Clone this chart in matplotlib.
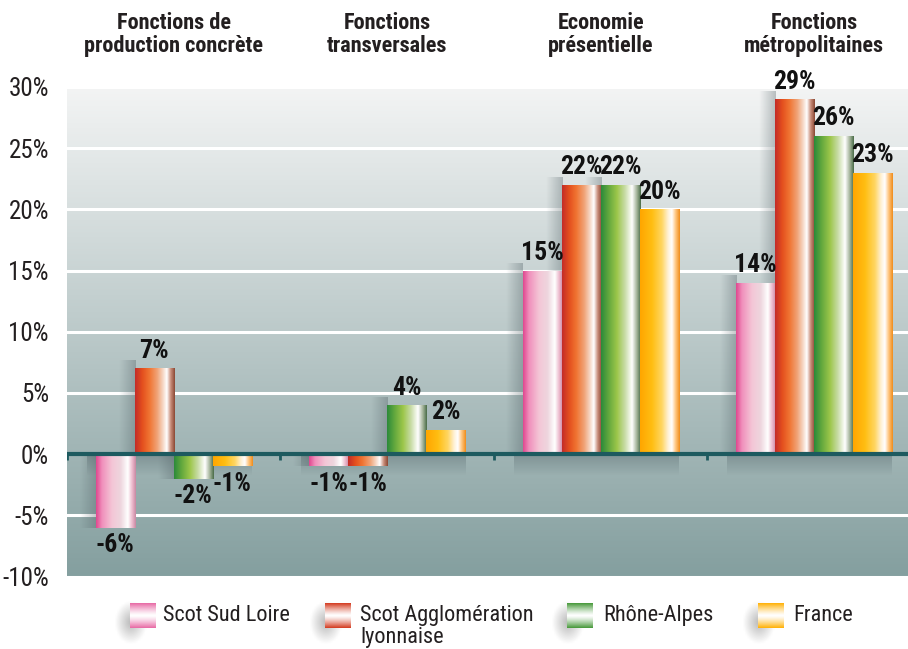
import matplotlib.pyplot as plt
import numpy as np
from matplotlib import font_manager as fm
from matplotlib.colors import to_rgb
from matplotlib.transforms import blended_transform_factory

# données
groups = ["Fonctions de\nproduction concrète", "Fonctions\ntransversales",
          "Economie\nprésentielle", "Fonctions\nmétropolitaines"]
series = ["Scot Sud Loire", "Scot Agglomération\nlyonnaise", "Rhône-Alpes", "France"]
sud_loire = [-6, -1, 15, 14]
agglo_lyon = [7, -1, 22, 29]
rhone_alpes = [-2, 4, 22, 26]
france = [-1, 2, 20, 23]
yticks = [-10, -5, 0, 5, 10, 15, 20, 25, 30]

# dégradés horizontaux (effet cylindre)
STOPS = [
    [(0, "#e04890"), (0.15, "#f090bc"), (0.4, "#f4c6d6"), (0.62, "#eed6de"),
     (0.8, "#ffffff"), (0.92, "#eab4c8"), (1, "#c88aa4")],
    [(0, "#c42c28"), (0.18, "#e4501e"), (0.36, "#f07432"), (0.56, "#f0a478"),
     (0.7, "#f6d6c4"), (0.8, "#ffffff"), (0.9, "#c88c78"), (1, "#8c4a36")],
    [(0, "#2c8a3a"), (0.2, "#66aa3e"), (0.4, "#9cc64a"), (0.6, "#c8dca6"),
     (0.78, "#ffffff"), (0.9, "#a4b49a"), (1, "#4c6e4a")],
    [(0, "#ffa600"), (0.3, "#ffbe12"), (0.55, "#ffd662"), (0.7, "#fff0d2"),
     (0.8, "#ffffff"), (0.9, "#ffc47c"), (1, "#f08e1e")],
]


def is_narrow(f):
    st = str(f.stretch).lower()
    return ("condensed" in st or "narrow" in f.name.lower()
            or "condensed" in f.name.lower() or "narrow" in f.fname.lower()
            or "condensed" in f.fname.lower())


def is_bold(f):
    w = f.weight
    if isinstance(w, str):
        return "bold" in w.lower() or "black" in w.lower()
    return w >= 600


def pick_font(bold):
    cands = [f for f in fm.fontManager.ttflist if is_narrow(f)
             and is_bold(f) == bold and "italic" not in f.style.lower()
             and "oblique" not in f.style.lower()
             and "italic" not in f.fname.lower() and "oblique" not in f.fname.lower()]
    cands.sort(key=lambda f: (0 if "Liberation" in f.name else
                              1 if "Roboto" in f.name else 2))
    return cands[0].fname if cands else None


REG, BOLD = pick_font(False), pick_font(True)
SCALE = 1.0 if REG else 0.8


def fp(size, bold=False):
    path = BOLD if bold else REG
    if path:
        return fm.FontProperties(fname=path, size=size)
    return fm.FontProperties(family="DejaVu Sans", size=size * SCALE,
                             weight="bold" if bold else "normal")


def ramp(stops, n=96):
    pos = np.array([s[0] for s in stops])
    cols = np.array([to_rgb(s[1]) for s in stops])
    t = np.linspace(0, 1, n)
    return np.stack([np.interp(t, pos, cols[:, c]) for c in range(3)], axis=-1)


fig = plt.figure(figsize=(9.08, 6.49), dpi=100)
fig.patch.set_facecolor("white")
ax = fig.add_axes([67 / 908, 1 - 576.5 / 649, 841 / 908, 489.5 / 649])

xmin, xmax, ymin, ymax = -0.5, 3.44, -10, 30

# fond en dégradé vertical
top, bot = np.array(to_rgb("#f3f4f4")), np.array(to_rgb("#849f9f"))
t = np.linspace(0, 1, 200)[:, None]
bg = (top * (1 - t) + bot * t)[:, None, :]
ax.imshow(bg, extent=[xmin, xmax, ymin, ymax], aspect="auto", zorder=0, origin="upper")

for v in yticks:
    if v != 0:
        ax.axhline(v, color="white", lw=2.2, zorder=1)

x = np.arange(len(groups))
w = 0.183
values = [sud_loire, agglo_lyon, rhone_alpes, france]

# ombres sous la ligne zéro
sh = np.zeros((40, 1, 4))
sh[..., :3] = (0.25, 0.32, 0.34)
sh[:, 0, 3] = np.linspace(0.35, 0, 40)
for xc in x:
    ax.imshow(sh, extent=[xc - 2 * w - 0.04, xc + 2 * w, -1.8, 0], aspect="auto",
              zorder=2, origin="upper")

side = np.zeros((1, 30, 4))
side[..., :3] = (0.3, 0.36, 0.38)
side[0, :, 3] = np.linspace(0, 0.35, 30)

for i, vals in enumerate(values):
    pos = x + (i - 1.5) * w
    bars = ax.bar(pos, vals, w, facecolor="none", linewidth=0, zorder=3)
    grad = ramp(STOPS[i])[None, :, :]
    for b, v in zip(bars, vals):
        x0 = b.get_x()
        y0, y1 = sorted([0, v])
        ax.imshow(side, extent=[x0 - 0.075, x0, y0, y1 + (0.6 if v > 0 else 0)],
                  aspect="auto", zorder=2.5)
        im = ax.imshow(grad, extent=[x0, x0 + w, y0, y1], aspect="auto",
                       zorder=3, interpolation="bilinear")
        im.set_clip_path(b)
        if v >= 0:
            ax.text(x0 + w / 2, v + 0.45, f"{v}%", ha="center", va="bottom",
                    fontproperties=fp(18.5, True), color="#111111", zorder=5)
        else:
            ax.text(x0 + w / 2, v - 0.45, f"{v}%", ha="center", va="top",
                    fontproperties=fp(18.5, True), color="#111111", zorder=5)

# ligne zéro
ax.axhline(0, color="#1d5a5f", lw=3, zorder=4)
ax.vlines(x - 0.5, -0.5, 0, color="#1d5a5f", lw=2, zorder=4)

ax.set_xlim(xmin, xmax)
ax.set_ylim(ymin, ymax)
ax.set_xticks([])
ax.set_yticks(yticks)
ax.set_yticklabels([f"{v}%" for v in yticks], color="#231f20")
for lab in ax.get_yticklabels():
    lab.set_fontproperties(fp(18))
ax.tick_params(axis="y", length=0, pad=13)
for s in ax.spines.values():
    s.set_visible(False)

# titres des groupes
tr = blended_transform_factory(ax.transData, fig.transFigure)
for xc, g in zip(x, groups):
    ax.text(xc, 1 - 12 / 649, g, transform=tr, ha="center", va="top",
            fontproperties=fp(16, True), color="#231f20", linespacing=1.05)

# légende
lax = fig.add_axes([0, 0, 1, 1], zorder=10)
lax.set_xlim(0, 908)
lax.set_ylim(649, 0)
lax.axis("off")
sw_x = [130, 325, 567, 758]
tx_x = [163, 360, 603, 793]
blur = np.zeros((20, 20, 4))
blur[..., :3] = (0.45, 0.45, 0.45)
yy, xx = np.mgrid[-1:1:20j, -1:1:20j]
blur[..., 3] = np.clip(0.5 * (1 - np.sqrt(xx ** 2 + yy ** 2)), 0, None)
for i, name in enumerate(series):
    col = np.array(to_rgb(STOPS[i][1][1]))
    dark = np.array(to_rgb(STOPS[i][0][1]))
    tt = np.abs(np.linspace(-1, 1, 40))[:, None] ** 1.3
    vg = (np.ones(3) * (1 - tt) + (col * 0.5 + dark * 0.5) * tt)[:, None, :]
    lax.imshow(blur, extent=[sw_x[i] - 16, sw_x[i] + 18, 645, 600], aspect="auto",
               interpolation="bilinear")
    lax.imshow(vg, extent=[sw_x[i], sw_x[i] + 26, 628, 603], aspect="auto")
    lax.text(tx_x[i], 605, name, ha="left", va="top", fontproperties=fp(16),
             color="#231f20", linespacing=1.05)

fig.savefig("out.png", dpi=100)
